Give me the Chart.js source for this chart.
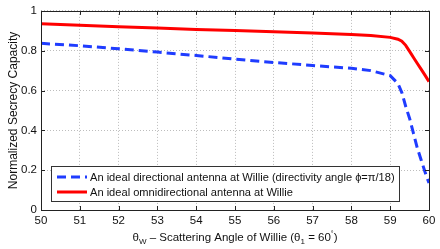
<!DOCTYPE html>
<html>
<head>
<meta charset="utf-8">
<script src="https://cdn.jsdelivr.net/npm/chart.js@4.4.1/dist/chart.umd.min.js"></script>
<style>
  html, body { margin: 0; padding: 0; background: #fff; }
  #wrap { width: 440px; height: 249px; position: relative; }
</style>
</head>
<body>
<div id="wrap"><canvas id="secrecyChart" width="440" height="249"></canvas></div>
<script>
// Scattering angle of Willie (degrees)
const theta = [50, 51, 52, 53, 54, 55, 56, 57, 58, 58.5, 59, 59.2, 59.3, 59.4, 59.5, 59.6, 59.7, 59.8, 59.9, 60];

// Normalized secrecy capacity for each antenna type
const directional = [0.837, 0.825, 0.81, 0.793, 0.776, 0.758, 0.741, 0.726, 0.712, 0.70, 0.675, 0.635, 0.59, 0.52, 0.46, 0.385, 0.31, 0.25, 0.19, 0.135];
const omni = [0.935, 0.928, 0.921, 0.914, 0.907, 0.901, 0.895, 0.889, 0.882, 0.877, 0.867, 0.858, 0.848, 0.827, 0.797, 0.766, 0.736, 0.706, 0.676, 0.645];

const xTicks = [50, 51, 52, 53, 54, 55, 56, 57, 58, 59, 60];
const yTicks = [0, 0.2, 0.4, 0.6, 0.8, 1];
const yTickLabels = ['0', '0.2', '0.4', '0.6', '0.8', '1'];

const seriesLabels = [
    'An ideal directional antenna at Willie (directivity angle \u03D5=\u03C0/18)',
    'An ideal omnidirectional antenna at Willie'
];

const FONT = 'Liberation Sans, Arial, Helvetica, sans-serif';

function toPoints(xs, ys) {
    return xs.map((x, i) => ({ x: x, y: ys[i] }));
}

// Box, inward ticks, legend and x-axis title (with subscripts)
const matlabLook = {
    id: 'matlabLook',
    afterDraw(chart) {
        const ctx = chart.ctx;
        const a = chart.chartArea;
        const xs = chart.scales.x;
        const ys = chart.scales.y;
        ctx.save();

        // inward ticks on all four sides
        ctx.strokeStyle = '#222';
        ctx.lineWidth = 1;
        ctx.beginPath();
        xTicks.forEach(v => {
            const px = Math.round(xs.getPixelForValue(v)) + 0.5;
            ctx.moveTo(px, a.bottom); ctx.lineTo(px, a.bottom - 4);
            ctx.moveTo(px, a.top); ctx.lineTo(px, a.top + 4);
        });
        yTicks.forEach(v => {
            const py = Math.round(ys.getPixelForValue(v)) + 0.5;
            ctx.moveTo(a.left, py); ctx.lineTo(a.left + 4, py);
            ctx.moveTo(a.right, py); ctx.lineTo(a.right - 4, py);
        });
        ctx.stroke();

        // plot box
        ctx.strokeStyle = '#222';
        ctx.strokeRect(Math.round(a.left) + 0.5, Math.round(a.top) + 0.5,
            Math.round(a.right - a.left), Math.round(a.bottom - a.top));

        // legend box in lower left of plot
        const lx = 51.5, ly = 166.5, lw = 348, lh = 35;
        ctx.fillStyle = '#fff';
        ctx.fillRect(lx, ly, lw, lh);
        ctx.strokeStyle = '#333';
        ctx.strokeRect(lx, ly, lw, lh);
        ctx.font = '11.1px ' + FONT;
        ctx.textBaseline = 'middle';
        ctx.textAlign = 'left';
        chart.data.datasets.forEach((ds, i) => {
            const cy = ly + 10.5 + i * 15;
            ctx.beginPath();
            ctx.strokeStyle = ds.borderColor;
            ctx.lineWidth = ds.borderWidth;
            ctx.setLineDash(ds.borderDash || []);
            ctx.moveTo(57, cy); ctx.lineTo(87, cy);
            ctx.stroke();
            ctx.setLineDash([]);
            ctx.fillStyle = '#111';
            ctx.fillText(ds.label, 90, cy + 0.5);
        });

        // x-axis title: θW – Scattering Angle of Willie (θ1 = 60°)
        const parts = [
            { t: '\u03B8', s: 11.5, dy: 0 },
            { t: 'W', s: 8, dy: 3 },
            { t: ' \u2013 Scattering Angle of Willie (\u03B8', s: 11.5, dy: 0 },
            { t: '1', s: 8, dy: 3 },
            { t: ' = 60', s: 11.5, dy: 0 },
            { t: '\u00B0', s: 7, dy: -5 },
            { t: ')', s: 11.5, dy: 0 }
        ];
        let total = 0;
        parts.forEach(p => { ctx.font = p.s + 'px ' + FONT; p.w = ctx.measureText(p.t).width; total += p.w; });
        let x = (a.left + a.right) / 2 - total / 2;
        const baseY = 241;
        ctx.textBaseline = 'alphabetic';
        ctx.fillStyle = '#111';
        parts.forEach(p => {
            ctx.font = p.s + 'px ' + FONT;
            ctx.fillText(p.t, x, baseY + p.dy);
            x += p.w;
        });
        ctx.restore();
    }
};

const chart = new Chart(document.getElementById('secrecyChart').getContext('2d'), {
    type: 'line',
    data: {
        datasets: [{
            label: seriesLabels[0],
            data: toPoints(theta, directional),
            borderColor: '#1f3cff',
            borderWidth: 3,
            borderDash: [9, 5],
            pointRadius: 0,
            tension: 0,
            fill: false
        }, {
            label: seriesLabels[1],
            data: toPoints(theta, omni),
            borderColor: '#ff0000',
            borderWidth: 3,
            pointRadius: 0,
            tension: 0,
            fill: false
        }]
    },
    options: {
        responsive: false,
        animation: false,
        layout: { padding: { top: 9, right: 11, left: 0, bottom: 0 } },
        plugins: {
            legend: { display: false },
            tooltip: { enabled: false }
        },
        scales: {
            x: {
                type: 'linear',
                min: 50,
                max: 60,
                afterBuildTicks: s => { s.ticks = xTicks.map(v => ({ value: v })); },
                afterFit: s => { s.height = 39; },
                grid: { color: '#bdbdbd', drawTicks: false },
                border: { display: false, dash: [1, 2] },
                ticks: { color: '#111', padding: 4, maxRotation: 0, font: { family: FONT, size: 11.5 } }
            },
            y: {
                min: 0,
                max: 1,
                afterBuildTicks: s => { s.ticks = yTicks.map(v => ({ value: v })); },
                afterFit: s => { s.width = 41; },
                grid: { color: '#bdbdbd', drawTicks: false },
                border: { display: false, dash: [1, 2] },
                ticks: {
                    color: '#111',
                    padding: 4,
                    font: { family: FONT, size: 11.5 },
                    callback: (v, i) => yTickLabels[i]
                },
                title: {
                    display: true,
                    text: 'Normalized Secrecy Capacity',
                    color: '#111',
                    padding: { top: 6, bottom: 0 },
                    font: { family: FONT, size: 12 }
                }
            }
        }
    },
    plugins: [matlabLook]
});
</script>
</body>
</html>
